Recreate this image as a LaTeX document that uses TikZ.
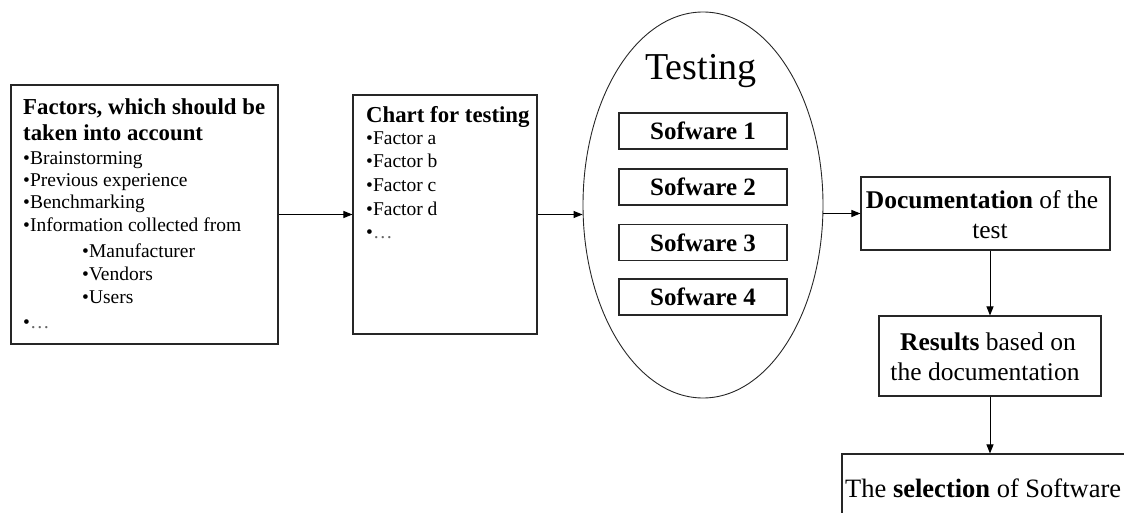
\documentclass[tikz,border=0pt]{standalone}
\usepackage{fontspec}
\setmainfont{Liberation Serif}
\usetikzlibrary{arrows.meta,shapes.geometric}

\begin{document}
\begin{tikzpicture}[x=1pt,y=-1pt,
  box/.style={draw=black!85, line width=1.1pt, rectangle, inner sep=0pt},
  swbox/.style={box, minimum width=168pt, minimum height=36pt,
    font=\fontsize{25}{30}\selectfont\bfseries},
  txt/.style={anchor=base west, inner sep=0pt, font=\fontsize{19.5}{23}\selectfont},
  ttl/.style={txt, font=\fontsize{22.8}{26}\selectfont\bfseries},
  rtxt/.style={anchor=base, inner sep=0pt, font=\fontsize{25.5}{30}\selectfont},
  arr/.style={draw=black, line width=1pt, -{Triangle[length=9pt,width=7pt]}}]

\useasboundingbox (0,0) rectangle (1124,513);

% factors box
\node[box, minimum width=267pt, minimum height=259pt] (factors) at (144.5,214.5) {};
\node[ttl] (f1) at (23,115) {Factors, which should be};
\node[ttl] (f2) at (23,141) {taken into account};
\node[txt] (f3) at (23,165) {•Brainstorming};
\node[txt] (f4) at (23,187) {•Previous experience};
\node[txt] (f5) at (23,209) {•Benchmarking};
\node[txt] (f6) at (23,232) {•Information collected from};
\node[txt] (f7) at (82,257) {•Manufacturer};
\node[txt] (f8) at (82,280) {•Vendors};
\node[txt] (f9) at (82,303) {•Users};
\node[txt] (f10) at (23,328) {•\textcolor{black!60}{…}};

% chart box
\node[box, minimum width=184pt, minimum height=239pt] (chart) at (445,214.5) {};
\node[ttl] (c1) at (366,123) {Chart for testing};
\node[txt] (c2) at (366,145) {•Factor a};
\node[txt] (c3) at (366,168) {•Factor b};
\node[txt] (c4) at (366,192) {•Factor c};
\node[txt] (c5) at (366,215) {•Factor d};
\node[txt] (c6) at (366,238) {•\textcolor{black!60}{…}};

% testing ellipse
\node[draw=black!85, line width=0.9pt, ellipse, inner sep=0pt,
  minimum width=240pt, minimum height=386pt] (tst) at (703,205) {};
\node[anchor=base, inner sep=0pt, font=\fontsize{38}{44}\selectfont] (tl) at (701,80) {Testing};
\node[swbox] (sw1) at (703,131) {Sofware 1};
\node[swbox] (sw2) at (703,187) {Sofware 2};
\node[swbox] (sw3) at (703,242.5) {Sofware 3};
\node[swbox] (sw4) at (703,297) {Sofware 4};

% documentation, results, selection
\node[box, minimum width=249pt, minimum height=73pt] (doc) at (985.5,213.5) {};
\node[rtxt] (d1) at (982,208) {\textbf{Documentation} of the};
\node[rtxt] (d2) at (990,238) {test};

\node[box, minimum width=222pt, minimum height=80pt] (res) at (990,356) {};
\node[rtxt] (r1) at (988,350) {\textbf{Results} based on};
\node[rtxt] (r2) at (985,380) {the documentation};

\node[box, minimum width=296pt, minimum height=76pt] (sel) at (990,492) {};
\node[rtxt, anchor=base west, font=\fontsize{26.5}{30}\selectfont] (s1) at (845,497) {The \textbf{selection} of Software};

% connectors
\draw[arr] (factors.east) -- (chart.west);
\draw[arr] (chart.east) -- (chart.east -| tst.west);
\draw[arr] (tst.east |- doc.west) -- (doc.west);
\draw[arr] (res.north |- doc.south) -- (res.north);
\draw[arr] (res.south) -- (res.south |- sel.north);
\end{tikzpicture}
\end{document}
